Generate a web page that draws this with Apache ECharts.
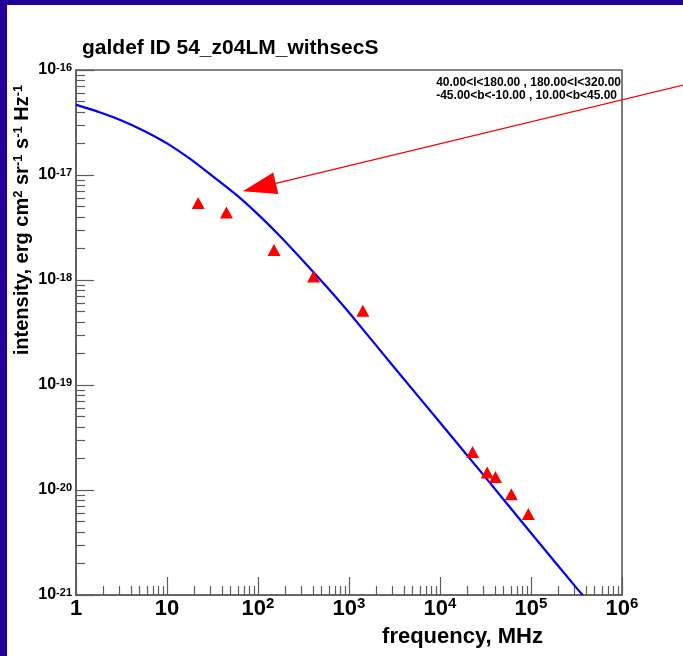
<!DOCTYPE html>
<html>
<head>
<meta charset="utf-8">
<script src="https://cdn.jsdelivr.net/npm/echarts@6/dist/echarts.min.js"></script>
<style>
  html, body { margin: 0; padding: 0; background: #ffffff; }
  #chart { width: 683px; height: 656px; }
</style>
</head>
<body>
<div id="chart"></div>
<script>
// Survey intensities (frequency in MHz, intensity in erg cm^-2 sr^-1 s^-1 Hz^-1)
const obsFreqMHz = [22, 45, 150, 408, 1420, 22800, 33000, 40700, 60800, 93500];
const obsIntensity = [5.4e-18, 4.4e-18, 1.93e-18, 1.08e-18, 5.1e-19, 2.3e-20, 1.47e-20, 1.33e-20, 9.1e-21, 5.9e-21];

// GALPROP model spectrum for the same sky region
const modelFreqMHz = [1, 1.78, 3.16, 5.62, 10, 17.8, 31.6, 56.2, 100, 178, 316, 562, 1000, 3160, 10000, 31600, 100000, 316000, 369000];
const modelIntensity = [4.68e-17, 3.98e-17, 3.31e-17, 2.63e-17, 2.0e-17, 1.43e-17, 9.77e-18, 6.61e-18, 4.22e-18, 2.57e-18, 1.51e-18, 8.71e-19, 4.9e-19, 1.46e-19, 4.39e-20, 1.32e-20, 3.89e-21, 1.17e-21, 1.0e-21];

// Axis decades
const xDecades = [1, 10, 100, 1e3, 1e4, 1e5, 1e6];
const yDecades = [1e-21, 1e-20, 1e-19, 1e-18, 1e-17, 1e-16];

// Sky region description
const regionLines = ['40.00<l<180.00 , 180.00<l<320.00', '-45.00<b<-10.00 , 10.00<b<45.00'];
const titleText = 'galdef ID 54_z04LM_withsecS';

// Arrow annotation, in data coordinates (tip, tail)
const arrowTip = [68, 7.0e-18];
const arrowTail = [7.4e6, 7.9e-17];

const FONT = "'Liberation Sans', Arial, Helvetica, sans-serif";
const FRAME = '#5c5c5c';

// minor ticks at 2..9 within every decade
function minorTicks(decades) {
  const out = [];
  for (let i = 0; i < decades.length - 1; i++) {
    for (let m = 2; m <= 9; m++) out.push(m * decades[i]);
  }
  return out;
}
const xMinor = minorTicks(xDecades);
const yMinor = minorTicks(yDecades);

function expOf(v) { return Math.round(Math.log10(v)); }
function xLabel(v) {
  const e = expOf(v);
  if (e === 0) return '{b|1}';
  if (e === 1) return '{b|10}';
  return '{b|10}{s|' + e + '}';
}
function yLabel(v) {
  return '{b|10}{s|' + expOf(v) + '}';
}

const chart = echarts.init(document.getElementById('chart'), null, { renderer: 'canvas' });

const baseAxisLine = { show: true, lineStyle: { color: FRAME, width: 1.6 } };

const option = {
  animation: false,
  backgroundColor: '#ffffff',
  grid: {
    left: 76, right: 61, top: 70, bottom: 61,
    show: true, borderColor: FRAME, borderWidth: 1.6, backgroundColor: 'transparent',
    outerBoundsMode: 'none'
  },
  xAxis: [
    {
      type: 'log', logBase: 10, min: 1, max: 1e6, position: 'bottom',
      axisLine: baseAxisLine,
      axisTick: { show: true, inside: true, length: 18, customValues: xDecades, lineStyle: { color: FRAME, width: 1.2 } },
      axisLabel: {
        show: true, customValues: xDecades, margin: 1, formatter: xLabel,
        showMinLabel: true, showMaxLabel: true,
        rich: {
          b: { fontFamily: FONT, fontWeight: 'bold', fontSize: 22, lineHeight: 24, color: '#000', verticalAlign: 'bottom' },
          s: { fontFamily: FONT, fontWeight: 'bold', fontSize: 15, lineHeight: 15, color: '#000', verticalAlign: 'top' }
        }
      },
      splitLine: { show: false }, minorTick: { show: false }
    },
    {
      type: 'log', logBase: 10, min: 1, max: 1e6, position: 'bottom',
      axisLine: { show: false },
      axisTick: { show: true, inside: true, length: 9, customValues: xMinor, lineStyle: { color: FRAME, width: 1.2 } },
      axisLabel: { show: false },
      splitLine: { show: false }
    }
  ],
  yAxis: [
    {
      type: 'log', logBase: 10, min: 1e-21, max: 1e-16, position: 'left',
      axisLine: baseAxisLine,
      axisTick: { show: true, inside: true, length: 18, customValues: yDecades, lineStyle: { color: FRAME, width: 1.2 } },
      axisLabel: {
        show: true, customValues: yDecades, margin: 4, formatter: yLabel,
        showMinLabel: true, showMaxLabel: true,
        rich: {
          b: { fontFamily: FONT, fontWeight: 'bold', fontSize: 16, lineHeight: 16, color: '#000', verticalAlign: 'bottom' },
          s: { fontFamily: FONT, fontWeight: 'bold', fontSize: 11, lineHeight: 11, color: '#000', verticalAlign: 'top', padding: [0, 0, 7, 0] }
        }
      },
      splitLine: { show: false }, minorTick: { show: false }
    },
    {
      type: 'log', logBase: 10, min: 1e-21, max: 1e-16, position: 'left',
      axisLine: { show: false },
      axisTick: { show: true, inside: true, length: 9, customValues: yMinor, lineStyle: { color: FRAME, width: 1.2 } },
      axisLabel: { show: false },
      splitLine: { show: false }
    }
  ],
  series: [
    {
      name: 'model', type: 'line', xAxisIndex: 0, yAxisIndex: 0,
      data: modelFreqMHz.map((f, i) => [f, modelIntensity[i]]),
      showSymbol: false, smooth: 0.2, clip: true,
      lineStyle: { color: '#0000ff', width: 2.2, join: 'round' }, z: 3
    },
    {
      name: 'data', type: 'scatter', xAxisIndex: 0, yAxisIndex: 0,
      data: obsFreqMHz.map((f, i) => [f, obsIntensity[i]]),
      symbol: 'triangle', symbolSize: [13, 12],
      itemStyle: { color: '#ff0000', opacity: 1 }, z: 4
    }
  ],
  graphic: [
    { type: 'rect', left: 0, top: 0, shape: { width: 683, height: 5 }, style: { fill: '#21009a' }, z: 100 },
    { type: 'rect', left: 0, top: 0, shape: { width: 7, height: 656 }, style: { fill: '#21009a' }, z: 100 },
    {
      type: 'text', x: 82, y: 48,
      style: { text: titleText, font: 'bold 21px ' + FONT, fill: '#000', align: 'left', verticalAlign: 'middle' }
    },
    {
      type: 'text', x: 621, y: 83,
      style: { text: regionLines[0], font: 'bold 12px ' + FONT, fill: '#000', align: 'right', verticalAlign: 'middle' }
    },
    {
      type: 'text', x: 617, y: 96,
      style: { text: regionLines[1], font: 'bold 12px ' + FONT, fill: '#000', align: 'right', verticalAlign: 'middle' }
    },
    {
      type: 'text', x: 543, y: 637,
      style: { text: 'frequency, MHz', font: 'bold 22px ' + FONT, fill: '#000', align: 'right', verticalAlign: 'middle' }
    },
    {
      type: 'text', x: 22, y: 220, rotation: Math.PI / 2,
      style: {
        text: '{b|intensity, erg cm}{s|2}{b| sr}{s|-1}{b| s}{s|-1}{b| Hz}{s|-1}',
        align: 'center', verticalAlign: 'middle',
        rich: {
          b: { fontFamily: FONT, fontWeight: 'bold', fontSize: 20, lineHeight: 21, fill: '#000', verticalAlign: 'bottom' },
          s: { fontFamily: FONT, fontWeight: 'bold', fontSize: 13, lineHeight: 13, fill: '#000', verticalAlign: 'top', padding: [0, 0, 10, 0] }
        }
      }
    }
  ]
};

chart.setOption(option);

// Arrow: positioned through the chart's own scales
const tip = chart.convertToPixel({ gridIndex: 0 }, arrowTip);
const tail = chart.convertToPixel({ gridIndex: 0 }, arrowTail);
const dx = tail[0] - tip[0], dy = tail[1] - tip[1];
const len = Math.sqrt(dx * dx + dy * dy);
const ux = dx / len, uy = dy / len;
const headLen = 34, headHalf = 11;
const bx = tip[0] + ux * headLen, by = tip[1] + uy * headLen;
chart.setOption({
  graphic: option.graphic.concat([
    {
      type: 'line', z: 50,
      shape: { x1: tail[0], y1: tail[1], x2: bx, y2: by },
      style: { stroke: '#ff0000', lineWidth: 1.2 }
    },
    {
      type: 'polygon', z: 50,
      shape: { points: [[tip[0], tip[1]], [bx - uy * headHalf, by + ux * headHalf], [bx + uy * headHalf, by - ux * headHalf]] },
      style: { fill: '#ff0000' }
    }
  ])
}, { replaceMerge: ['graphic'] });
</script>
</body>
</html>
